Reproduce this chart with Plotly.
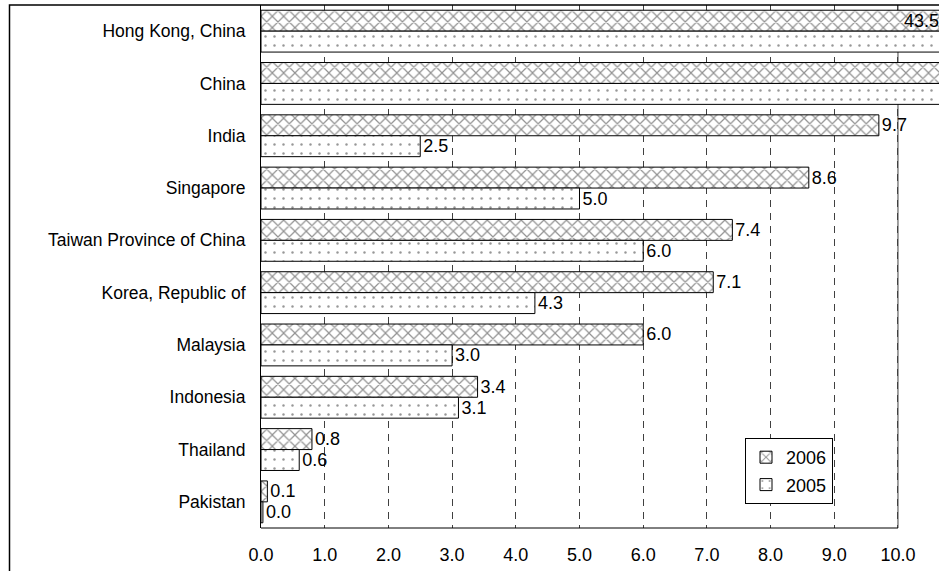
import plotly.graph_objects as go

categories = ["Hong Kong, China", "China", "India", "Singapore", "Taiwan Province of China",
              "Korea, Republic of", "Malaysia", "Indonesia", "Thailand", "Pakistan"]
values_2006 = [43.5, 16.1, 9.7, 8.6, 7.4, 7.1, 6.0, 3.4, 0.8, 0.1]
values_2005 = [27.2, 12.3, 2.5, 5.0, 6.0, 4.3, 3.0, 3.1, 0.6, 0.03]
tick_values = [0, 1, 2, 3, 4, 5, 6, 7, 8, 9, 10]
tick_labels = [f"{v:.1f}" for v in tick_values]

AXIS_MAX = 10
VIEW_MAX = 10.644
FONT = "Liberation Sans, Arial, sans-serif"
FS = 18
FS_CAT = 17.5


def labels(vals):
    return [f"{v:.1f}" if v <= AXIS_MAX else "" for v in vals]


fig = go.Figure()
fig.add_trace(go.Bar(
    name="2006", y=categories, x=values_2006, orientation="h",
    text=labels(values_2006), textposition="outside", constraintext="none",
    cliponaxis=False,
    textfont=dict(family=FONT, size=FS, color="black"),
    marker=dict(color="white", line=dict(color="black", width=1),
                pattern=dict(shape="x", fgcolor="#262626", bgcolor="white",
                             size=8, solidity=0.28)),
    legendgroup="a",
))
fig.add_trace(go.Bar(
    name="2005", y=categories, x=values_2005, orientation="h",
    text=labels(values_2005), textposition="outside", constraintext="none",
    cliponaxis=False,
    textfont=dict(family=FONT, size=FS, color="black"),
    marker=dict(color="white", line=dict(color="black", width=1),
                pattern=dict(shape=".", fgcolor="#303030", bgcolor="white",
                             size=9, solidity=0.06)),
    legendgroup="b",
))

plot_l, plot_r, plot_t, plot_b = 261, 939, 5, 528
W, H = 939, 571
pw, ph = plot_r - plot_l, plot_b - plot_t

fig.update_layout(
    width=W, height=H,
    margin=dict(l=plot_l, r=W - plot_r, t=plot_t, b=H - plot_b, pad=0, autoexpand=False),
    paper_bgcolor="white", plot_bgcolor="white",
    barmode="group", bargap=0.2, bargroupgap=0,
    font=dict(family=FONT, size=FS, color="black"),
    showlegend=True,
    legend=dict(
        x=(833 - plot_l) / pw, xanchor="right",
        y=(plot_b - 504) / ph, yanchor="bottom",
        bgcolor="white", bordercolor="black", borderwidth=1,
        font=dict(family=FONT, size=FS, color="black"),
        traceorder="grouped", tracegroupgap=1, itemwidth=30,
    ),
    xaxis=dict(
        range=[0, VIEW_MAX], tickvals=tick_values, ticktext=tick_labels,
        showgrid=True, gridcolor="#404040", gridwidth=1, griddash="7px,6px",
        zeroline=False, showline=False, ticks="", ticklabelstandoff=14,
        tickfont=dict(family=FONT, size=FS, color="black"),
        automargin=False, fixedrange=True,
    ),
    yaxis=dict(
        autorange="reversed", showgrid=False, zeroline=False,
        showline=True, linecolor="black", linewidth=1,
        ticks="", ticklabelstandoff=11, automargin=False,
        tickfont=dict(family=FONT, size=FS_CAT, color="black"),
    ),
    shapes=[
        dict(type="line", xref="x", yref="paper", x0=AXIS_MAX, x1=AXIS_MAX, y0=0, y1=1,
             line=dict(color="#404040", width=1), layer="below"),
        dict(type="line", xref="x", yref="paper", x0=0, x1=AXIS_MAX, y0=0, y1=0,
             line=dict(color="black", width=1), layer="above"),
        dict(type="rect", xref="paper", yref="paper",
             x0=(9.5 - plot_l) / pw, x1=1.05, y0=-0.3, y1=1.0,
             line=dict(color="black", width=1.5), fillcolor="rgba(0,0,0,0)", layer="above"),
    ],
    annotations=[
        dict(xref="x", yref="y", x=AXIS_MAX, y=categories[0], yshift=10,
             text=f"{values_2006[0]:.1f}", showarrow=False, xanchor="left", xshift=4,
             font=dict(family=FONT, size=FS, color="black")),
    ],
)

fig.write_html(
    "out.html",
    config={"displayModeBar": False, "staticPlot": True},
    post_script="document.body.style.margin='0';document.body.style.overflow='hidden';",
)
